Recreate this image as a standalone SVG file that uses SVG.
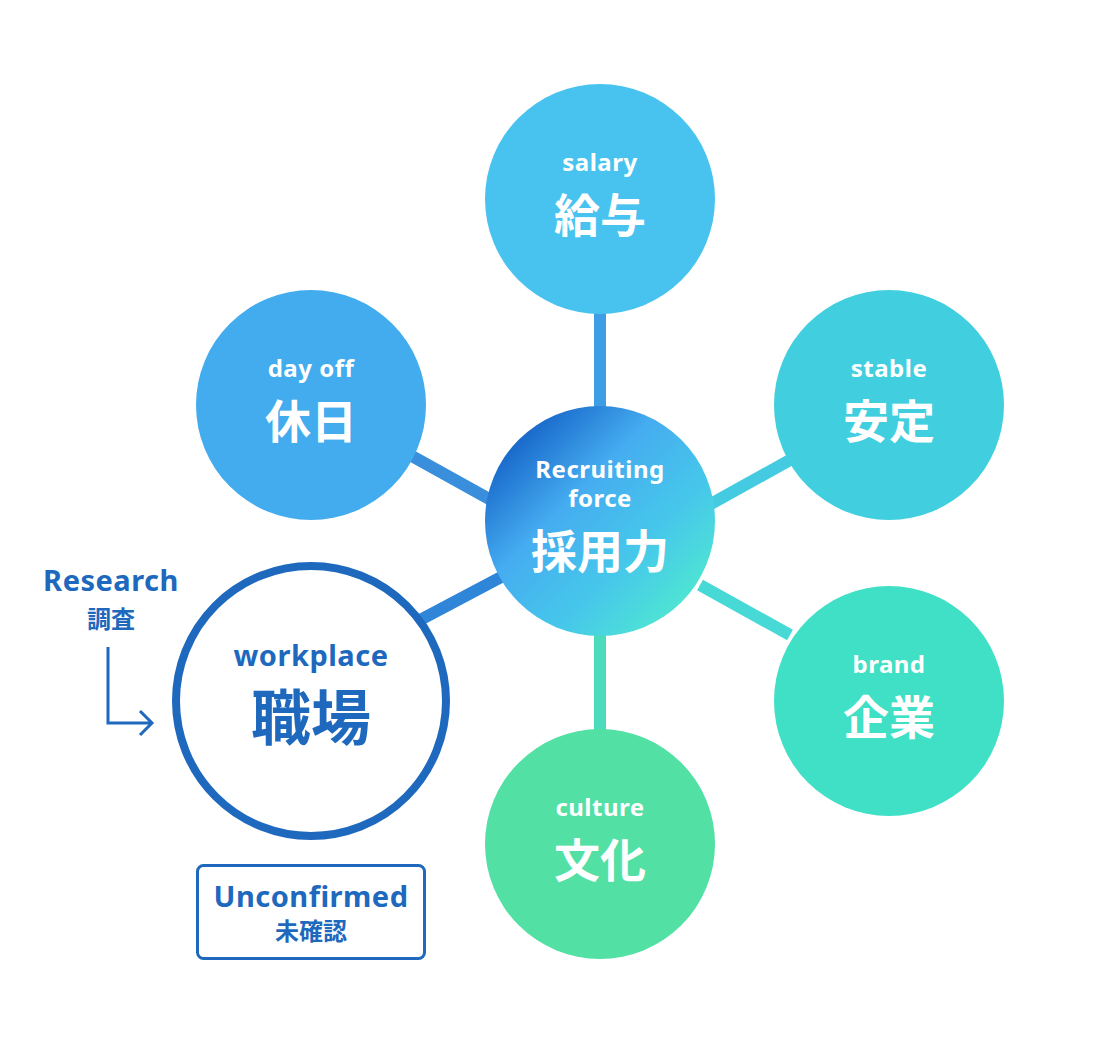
<svg xmlns="http://www.w3.org/2000/svg" width="1100" height="1060" viewBox="0 0 1100 1060">
<style>
.en{font-family:"Noto Sans","Noto Sans CJK JP",sans-serif;font-weight:700;font-size:24px;fill:#fff;text-anchor:middle;letter-spacing:0.5px}
.jp{font-family:"Noto Sans CJK JP",sans-serif;font-weight:700;font-size:46px;fill:#fff;text-anchor:middle}
.blue{fill:#1e69bd}
</style>
<defs>
<linearGradient id="cg" x1="0.15" y1="0.1" x2="0.9" y2="0.85">
<stop offset="0" stop-color="#1664c8"/><stop offset="0.35" stop-color="#45acf0"/><stop offset="0.7" stop-color="#46c8ea"/><stop offset="1" stop-color="#4fe6d2"/>
</linearGradient>
</defs>
<rect width="1100" height="1060" fill="#fff"/>
<g id="connectors" stroke-width="12">
<line x1="600" y1="300" x2="600" y2="420" stroke="#3d9ee6"/>
<line x1="410" y1="455" x2="500" y2="505" stroke="#3a8fdc"/>
<line x1="790" y1="460" x2="700" y2="510" stroke="#44cbe2"/>
<line x1="790" y1="635" x2="700" y2="585" stroke="#47d9d6"/>
<line x1="600" y1="620" x2="600" y2="735" stroke="#4cdcbc"/>
<line x1="420" y1="620" x2="505" y2="575" stroke="#2f86d8"/>
</g>
<g id="salary"><circle cx="600" cy="199" r="115" fill="#48c3ef"/><text class="en" x="600" y="171">salary</text><text class="jp" x="600" y="232">給与</text></g>
<g id="dayoff"><circle cx="311" cy="405" r="115" fill="#42acee"/><text class="en" x="311" y="377">day off</text><text class="jp" x="311" y="438">休日</text></g>
<g id="stable"><circle cx="889" cy="405" r="115" fill="#41cfe0"/><text class="en" x="889" y="377">stable</text><text class="jp" x="889" y="438">安定</text></g>
<g id="brand"><circle cx="889" cy="701" r="115" fill="#40e0c6"/><text class="en" x="889" y="673">brand</text><text class="jp" x="889" y="734">企業</text></g>
<g id="culture"><circle cx="600" cy="844" r="115" fill="#52e0a5"/><text class="en" x="600" y="816">culture</text><text class="jp" x="600" y="877">文化</text></g>
<g id="center"><circle cx="600" cy="521" r="115" fill="url(#cg)"/><text class="en" x="600" y="478">Recruiting</text><text class="en" x="600" y="507">force</text><text class="jp" x="600" y="568">採用力</text></g>
<g id="workplace"><circle cx="311" cy="701" r="135" fill="#fff" stroke="#1e69bd" stroke-width="8"/><text class="en blue" x="311" y="666" style="font-size:29px">workplace</text><text class="jp blue" x="311" y="740" style="font-size:60px">職場</text></g>
<g id="research"><text class="en blue" x="111" y="591" style="font-size:29px">Research</text><text class="jp blue" x="111" y="628" style="font-size:24px">調査</text>
<path d="M108 647 V723 H150 M140 711 L152 723 L140 735" fill="none" stroke="#1e69bd" stroke-width="3"/></g>
<g id="unconfirmed"><rect x="197.5" y="865.5" width="227" height="93" rx="6" fill="#fff" stroke="#1e69bd" stroke-width="3"/><text class="en blue" x="311" y="907" style="font-size:29px">Unconfirmed</text><text class="jp blue" x="311" y="940" style="font-size:24px">未確認</text></g>
</svg>
